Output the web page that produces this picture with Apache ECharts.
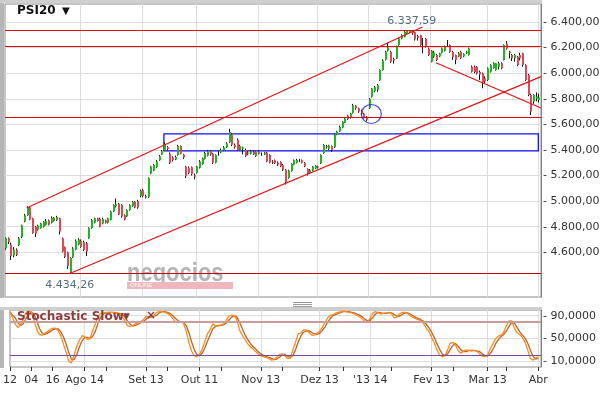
<!DOCTYPE html>
<html><head><meta charset="utf-8">
<script src="https://cdn.jsdelivr.net/npm/echarts@6/dist/echarts.min.js"></script>
<style>html,body{margin:0;padding:0;background:#fff}#c{width:605px;height:393px}</style>
</head><body><div id="c"></div>
<script>
// ---- price data (OHLC per trading day) ----
const open = [4631,4709,4660,4575,4620,4657,4720,4840,4890,4950,
4865,4800,4775,4790,4800,4815,4850,4830,4870,4850,
4865,4710,4640,4600,4445,4560,4620,4660,4690,4680,
4670,4710,4790,4830,4865,4860,4825,4850,4830,4855,
4918,4960,4980,4970,4890,4880,4930,4960,4995,5000,
5040,5085,5040,5030,5215,5240,5265,5320,5365,5395,
5420,5370,5340,5325,5360,5430,5365,5270,5260,5265,
5200,5220,5260,5290,5330,5355,5390,5370,5300,5370,
5380,5395,5420,5460,5520,5440,5480,5400,5410,5400,
5370,5370,5385,5350,5385,5370,5365,5380,5360,5310,
5320,5300,5305,5280,5245,5180,5235,5285,5300,5322,
5320,5300,5250,5220,5240,5255,5270,5296,5375,5430,
5410,5430,5420,5520,5545,5575,5615,5670,5650,5690,
5745,5725,5705,5685,5660,5725,5815,5860,5870,5945,
6025,6105,6175,6168,6110,6115,6220,6272,6285,6311,
6320,6330,6320,6290,6298,6255,6270,6194,6090,6130,
6142,6130,6160,6175,6215,6220,6165,6142,6130,6168,
6130,6155,6142,6051,6051,6051,6010,5999,5960,5947,
6012,6040,6025,6050,6077,6103,6233,6168,6142,6116,
6129,6142,6155,6064,5986,5830,5778,5800,5790];
const close = [4709,4680,4570,4620,4580,4710,4810,4890,4950,4855,
4750,4745,4810,4825,4840,4845,4815,4870,4845,4875,
4762,4605,4565,4490,4555,4630,4690,4700,4640,4620,
4605,4790,4850,4865,4845,4800,4860,4830,4865,4918,
4970,4975,4895,4880,4855,4930,4970,4995,4950,4950,
5080,5040,5030,5180,5270,5285,5310,5350,5390,5445,
5405,5300,5320,5345,5430,5370,5340,5195,5220,5210,
5190,5270,5310,5335,5375,5390,5365,5300,5360,5375,
5400,5420,5450,5540,5440,5420,5400,5430,5420,5350,
5380,5390,5365,5385,5370,5365,5380,5310,5300,5300,
5296,5285,5270,5245,5150,5240,5290,5320,5322,5315,
5300,5270,5215,5240,5270,5275,5262,5360,5439,5420,
5435,5400,5520,5545,5580,5620,5645,5640,5685,5750,
5725,5700,5680,5650,5635,5800,5880,5890,5908,6025,
6100,6168,6200,6090,6100,6207,6272,6298,6324,6335,
6330,6310,6265,6275,6220,6250,6205,6142,6175,6160,
6103,6155,6194,6207,6220,6168,6125,6103,6155,6116,
6150,6168,6194,6012,6010,5999,5990,5930,5935,6038,
6064,6077,6077,6077,6038,6220,6194,6155,6116,6142,
6064,6116,6064,5947,5830,5700,5830,5817,5810];
const low = [4620,4665,4540,4560,4570,4650,4710,4835,4885,4850,
4745,4720,4770,4785,4795,4810,4810,4825,4840,4845,
4740,4600,4555,4470,4434.26,4555,4615,4655,4635,4610,
4570,4705,4785,4825,4840,4795,4820,4825,4825,4850,
4915,4950,4890,4870,4850,4875,4925,4955,4945,4940,
5030,5030,5020,5025,5210,5235,5260,5315,5360,5390,
5395,5290,5310,5320,5355,5365,5330,5180,5210,5200,
5170,5215,5255,5285,5325,5350,5355,5290,5295,5355,
5375,5390,5415,5455,5430,5410,5395,5395,5365,5345,
5360,5365,5360,5345,5365,5355,5360,5305,5295,5290,
5290,5275,5265,5235,5130,5175,5230,5280,5295,5305,
5295,5265,5200,5215,5235,5250,5255,5290,5370,5410,
5400,5385,5415,5515,5540,5570,5610,5635,5645,5685,
5715,5690,5670,5645,5625,5720,5810,5850,5855,5940,
6020,6100,6170,6080,6075,6110,6215,6265,6280,6305,
6315,6300,6255,6255,6215,6155,6200,6135,6085,6120,
6095,6125,6155,6170,6205,6160,6105,6070,6125,6110,
6125,6150,6138,6005,6000,5990,5947,5882,5920,5940,
6005,6035,6020,6030,6030,6100,6185,6116,6095,6090,
6055,6100,6050,5940,5820,5673,5760,5780,5770];
const high = [4715,4715,4675,4640,4630,4720,4815,4900,4960,4955,
4870,4805,4815,4830,4845,4860,4855,4880,4875,4885,
4870,4715,4645,4605,4560,4640,4700,4710,4700,4690,
4680,4795,4860,4870,4870,4870,4870,4855,4870,4925,
4975,5020,4985,4975,4895,4935,4975,5000,5000,5010,
5090,5095,5050,5185,5275,5290,5320,5360,5400,5460,
5430,5380,5350,5355,5440,5435,5370,5275,5270,5270,
5215,5275,5320,5340,5385,5400,5395,5375,5365,5390,
5410,5430,5460,5565,5530,5450,5490,5440,5425,5410,
5390,5400,5395,5390,5395,5380,5385,5385,5365,5320,
5325,5310,5310,5290,5250,5245,5295,5325,5330,5330,
5325,5305,5255,5250,5275,5280,5278,5365,5445,5440,
5440,5435,5525,5550,5590,5625,5650,5675,5690,5760,
5750,5730,5715,5690,5665,5805,5885,5900,5915,6030,
6110,6175,6240,6175,6120,6215,6280,6305,6330,6335,
6337.59,6335,6325,6300,6300,6275,6275,6200,6180,6175,
6150,6160,6200,6215,6259,6225,6175,6145,6165,6175,
6155,6175,6200,6060,6060,6055,6020,6005,5975,6045,
6070,6085,6080,6090,6085,6225,6250,6175,6150,6150,
6135,6160,6160,6070,5995,5840,5835,5850,5840];

// ---- stochastic slow (%K bright, %D dark) ----
const stochK = [96,86,75,69,74,86,95,98,97,82,66,57,56,59,62,66,68,68,64,55,
41,26,10,7,21,36,47,55,53,48,50,64,76,90,94,95,96,96,96,95,
94,93,88,82,72,71,73,76,77,80,83,89,88,87,91,96,97,97,96,94,
91,85,79,78,79,77,63,44,28,20,18,22,31,45,58,66,76,72,72,74,
75,82,89,91,90,83,65,56,49,41,36,32,27,23,20,18,17,15,12,13,
17,22,23,20,15,15,30,44,58,60,65,65,61,56,56,59,63,69,78,86,
91,92,94,96,97,98,97,96,95,93,91,88,84,80,79,86,95,97,95,93,
94,95,96,93,86,88,93,96,96,94,90,87,85,83,81,76,68,62,52,42,
30,21,18,20,30,42,43,38,28,24,28,30,29,28,29,28,23,19,18,21,
32,41,50,54,56,61,72,81,81,68,60,57,52,44,30,15,12,16,18];
const stochD = [96,91,86,77,73,76,85,93,97,92,82,68,60,57,59,62,65,67,67,62,
53,41,26,14,13,21,35,46,52,52,50,54,63,77,87,93,95,96,96,96,
95,94,92,88,81,75,72,73,75,78,80,84,87,88,89,91,95,97,97,96,
94,90,85,81,79,78,73,61,45,31,22,20,24,33,45,56,67,71,73,73,
74,77,82,87,90,88,79,68,57,49,42,36,32,27,23,20,18,17,15,13,
14,17,21,22,19,17,20,30,44,54,61,63,64,61,58,57,59,64,70,78,
85,90,92,94,96,97,97,97,96,95,93,91,88,84,81,82,87,93,96,95,
94,94,95,95,92,89,89,92,95,95,93,90,87,85,83,80,75,69,61,52,
41,31,23,20,23,31,38,41,36,30,27,27,29,29,29,28,27,23,20,19,
24,31,41,48,53,57,63,71,78,77,70,62,56,51,42,30,19,14,15];

// ---- axes ----
const N = 200;
const categories = Array.from({length: N}, (_, i) => String(i));
const tickIdx    = [0, 8, 16, 28, 51, 71, 94, 116, 135, 158, 179, 198];
const tickLabels = ['12', '04', '16', 'Ago 14', 'Set 13', 'Out 11', 'Nov 13', 'Dez 13', "'13 14", 'Fev 13', 'Mar 13', 'Abr'];
const minorTickIdx = [36, 59, 79, 102, 125, 143, 166, 186];
const gridIdx = [28, 51, 71, 94, 116, 135, 158, 179, 198];
const priceTicks = [4600, 4800, 5000, 5200, 5400, 5600, 5800, 6000, 6200, 6400];
const stochTicks = [10, 50, 90];

// ---- annotations ----
const hLevels = [6337.59, 6212, 5655];
const supportLevel = 4434.26;
const upperChannel = [[8, 4946], [155, 6361]];
const lowerChannel = [[24, 4434.26], [199, 5973]];
const downTrend = [[160, 6082], [199, 5728]];
const boxRange = [[59, 5525], [198, 5392]];
const circlePoint = [136, 5681];

const FONT = "'DejaVu Sans', Verdana, sans-serif";
const GREEN = '#22b422', RED = '#dc4a5a';
const LINE_RED = '#dd0a0a';

function fmtPrice(v) {
  const s = Math.round(v).toString().replace(/\B(?=(\d{3})+(?!\d))/g, '.');
  return s + ',00';
}
function fmt2(v) {
  const p = v.toFixed(2).split('.');
  return p[0].replace(/\B(?=(\d{3})+(?!\d))/g, '.') + ',' + p[1];
}

const labelAt = {};
tickIdx.forEach((ix, k) => { labelAt[ix] = tickLabels[k]; });
const tickSet = new Set(tickIdx.concat(minorTickIdx));
const gridSet = new Set(gridIdx);

const candles = open.map((o, i) => [i, o, close[i], low[i], high[i]]);
const maxH = Math.max.apply(null, high), iMax = high.indexOf(maxH);
const minL = Math.min.apply(null, low), iMin = low.indexOf(minL);

const chart = echarts.init(document.getElementById('c'), null, {renderer: 'canvas'});

function lineSeries(name, color, width, data) {
  return {type: 'line', name: name, xAxisIndex: 0, yAxisIndex: 0, data: [], silent: true, z: 5,
    markLine: {silent: true, symbol: ['none', 'none'], label: {show: false},
      lineStyle: {color: color, width: width, type: 'solid', opacity: 1},
      emphasis: {disabled: true},
      data: data}};
}

const option = {
  animation: false,
  textStyle: {fontFamily: FONT},
  grid: [
    {left: 5, top: 4, width: 536, height: 293, show: true, borderColor: '#8c8c8c', borderWidth: 1},
    {left: 5, top: 310, width: 536, height: 57, show: true, borderColor: '#8c8c8c', borderWidth: 1}
  ],
  xAxis: [
    {gridIndex: 0, type: 'category', data: categories, boundaryGap: false,
     axisLine: {show: false}, axisTick: {show: false}, axisLabel: {show: false},
     splitLine: {show: true, interval: (i) => gridSet.has(i), lineStyle: {color: '#dcdcdc', width: 1}}},
    {gridIndex: 1, type: 'category', data: categories, boundaryGap: false,
     axisLine: {show: false},
     axisTick: {show: true, interval: (i) => tickSet.has(i), length: 4, lineStyle: {color: '#333'}},
     axisLabel: {show: true, interval: (i) => (i in labelAt), formatter: (v) => labelAt[+v] || '',
                 color: '#333', fontSize: 11, fontFamily: FONT, margin: 8},
     splitLine: {show: true, interval: (i) => gridSet.has(i), lineStyle: {color: '#dcdcdc', width: 1}}}
  ],
  yAxis: [
    {gridIndex: 0, type: 'value', position: 'right', min: 4250, max: 6541, scale: true,
     axisLine: {show: true, lineStyle: {color: '#808080'}},
     axisTick: {show: false, customValues: priceTicks},
     axisLabel: {customValues: priceTicks, formatter: (v) => '- ' + fmtPrice(v), margin: 2,
                 color: '#333', fontSize: 11, fontFamily: FONT},
     splitLine: {show: true, lineStyle: {color: '#dcdcdc', width: 1}}},
    {gridIndex: 1, type: 'value', position: 'right', min: 0, max: 100,
     axisLine: {show: true, lineStyle: {color: '#808080'}},
     axisTick: {show: false, customValues: stochTicks},
     axisLabel: {customValues: stochTicks, formatter: (v) => '- ' + v + ',0000', margin: 2,
                 color: '#333', fontSize: 11, fontFamily: FONT},
     splitLine: {show: true, lineStyle: {color: '#dcdcdc', width: 1}}}
  ],
  series: [
    {type: 'custom', name: 'PSI20', xAxisIndex: 0, yAxisIndex: 0, clip: true, z: 3,
     data: candles, encode: {x: 0, y: [1, 2, 3, 4]},
     renderItem: function (params, api) {
       const i = api.value(0);
       const o = api.value(1), c = api.value(2), l = api.value(3), h = api.value(4);
       const pO = api.coord([i, o]), pC = api.coord([i, c]);
       const pL = api.coord([i, l]), pH = api.coord([i, h]);
       const xc = Math.round(pO[0]);
       const top = Math.min(pO[1], pC[1]), bot = Math.max(pO[1], pC[1]);
       const children = [
         {type: 'line', shape: {x1: xc + 0.5, y1: pH[1], x2: xc + 0.5, y2: pL[1]},
          style: {stroke: '#111', lineWidth: 1}}
       ];
       if (bot - top >= 1) {
         children.push({type: 'rect', shape: {x: xc, y: top, width: 2, height: bot - top},
                        style: {fill: c >= o ? GREEN : RED}});
       }
       return {type: 'group', children: children};
     }},
    lineSeries('levels', LINE_RED, 1.2, hLevels.map(v => ({yAxis: v}))),
    lineSeries('support', '#c00000', 1.2, [{yAxis: supportLevel}]),
    lineSeries('trend', '#e01515', 1.2, [upperChannel, lowerChannel, downTrend].map(seg => [
      {coord: seg[0]}, {coord: seg[1]}])),
    {type: 'scatter', xAxisIndex: 0, yAxisIndex: 0, silent: true, z: 6,
     data: [circlePoint], symbol: 'circle', symbolSize: [20, 19],
     itemStyle: {color: 'rgba(0,0,0,0)', borderColor: '#1a1ae6', borderWidth: 1.2},
     markArea: {silent: true,
       itemStyle: {color: 'rgba(0,0,0,0)', borderColor: '#1010ee', borderWidth: 1.3},
       data: [[{coord: boxRange[0]}, {coord: boxRange[1]}]]}},
    {type: 'scatter', xAxisIndex: 0, yAxisIndex: 0, silent: true, symbolSize: 0, z: 7,
     data: [
       {value: [iMax + 1, maxH], label: {show: true, position: 'top', distance: 3, formatter: fmt2(maxH)}},
       {value: [iMin, minL], label: {show: true, position: 'bottom', distance: 6, formatter: fmt2(minL)}}
     ],
     label: {color: '#2b4a5a', fontSize: 11, fontFamily: FONT}},
    {type: 'line', name: '%D', xAxisIndex: 1, yAxisIndex: 1, data: stochD, showSymbol: false,
     lineStyle: {color: '#b8642a', width: 1.3}, z: 3,
     markLine: {silent: true, symbol: ['none', 'none'], label: {show: false},
       data: [{yAxis: 80, lineStyle: {color: '#c99c9c', width: 2, type: 'solid'}},
              {yAxis: 20, lineStyle: {color: '#7a4aa0', width: 1.2, type: 'solid'}}]}},
    {type: 'line', name: '%K', xAxisIndex: 1, yAxisIndex: 1, data: stochK, showSymbol: false,
     lineStyle: {color: '#ff8a1e', width: 1.3}, z: 4}
  ],
  graphic: [
    {type: 'rect', left: 0, top: 0, shape: {width: 4, height: 298}, style: {fill: '#b5b5b5'}, z: 10},
    {type: 'rect', left: 0, top: 0, shape: {width: 542, height: 3}, style: {fill: '#cfcfcf'}, z: 10},
    {type: 'rect', left: 0, top: 307, shape: {width: 4, height: 61}, style: {fill: '#b5b5b5'}, z: 10},
    {type: 'rect', left: 0, top: 307, shape: {width: 542, height: 3}, style: {fill: '#cfcfcf'}, z: 10},
    {type: 'text', left: 17, top: 5, style: {text: 'PSI20', font: 'bold 12px ' + FONT, fill: '#111'}, z: 20},
    {type: 'text', left: 62, top: 6, style: {text: '▼', font: '10px ' + FONT, fill: '#111'}, z: 20},
    {type: 'text', left: 17, top: 311, style: {text: 'Stochastic Slow', font: 'bold 12px ' + FONT, fill: '#8b3c3c'}, z: 20},
    {type: 'text', left: 123, top: 312, style: {text: '▼', font: '9px ' + FONT, fill: '#8b3c3c'}, z: 20},
    {type: 'text', left: 146, top: 310, style: {text: '×', font: 'bold 12px ' + FONT, fill: '#8b3c3c'}, z: 20},
    {type: 'text', x: 127, y: 261, scaleY: 1.2, style: {text: 'negocios', font: 'bold 22px "Liberation Sans", Arial, sans-serif', fill: '#b4b4b4'}, z: 1},
    {type: 'rect', left: 127, top: 282, shape: {width: 106, height: 7}, style: {fill: '#efb6bd'}, z: 1},
    {type: 'text', left: 130, top: 282, style: {text: 'ONLINE', font: '6px "Liberation Sans", Arial', fill: '#fff'}, z: 1},
    {type: 'rect', left: 293, top: 302, shape: {width: 19, height: 1}, style: {fill: '#999'}, z: 10},
    {type: 'rect', left: 293, top: 304, shape: {width: 19, height: 1}, style: {fill: '#999'}, z: 10},
    {type: 'rect', left: 293, top: 306, shape: {width: 19, height: 1}, style: {fill: '#999'}, z: 10}
  ]
};
chart.setOption(option);
</script></body></html>
